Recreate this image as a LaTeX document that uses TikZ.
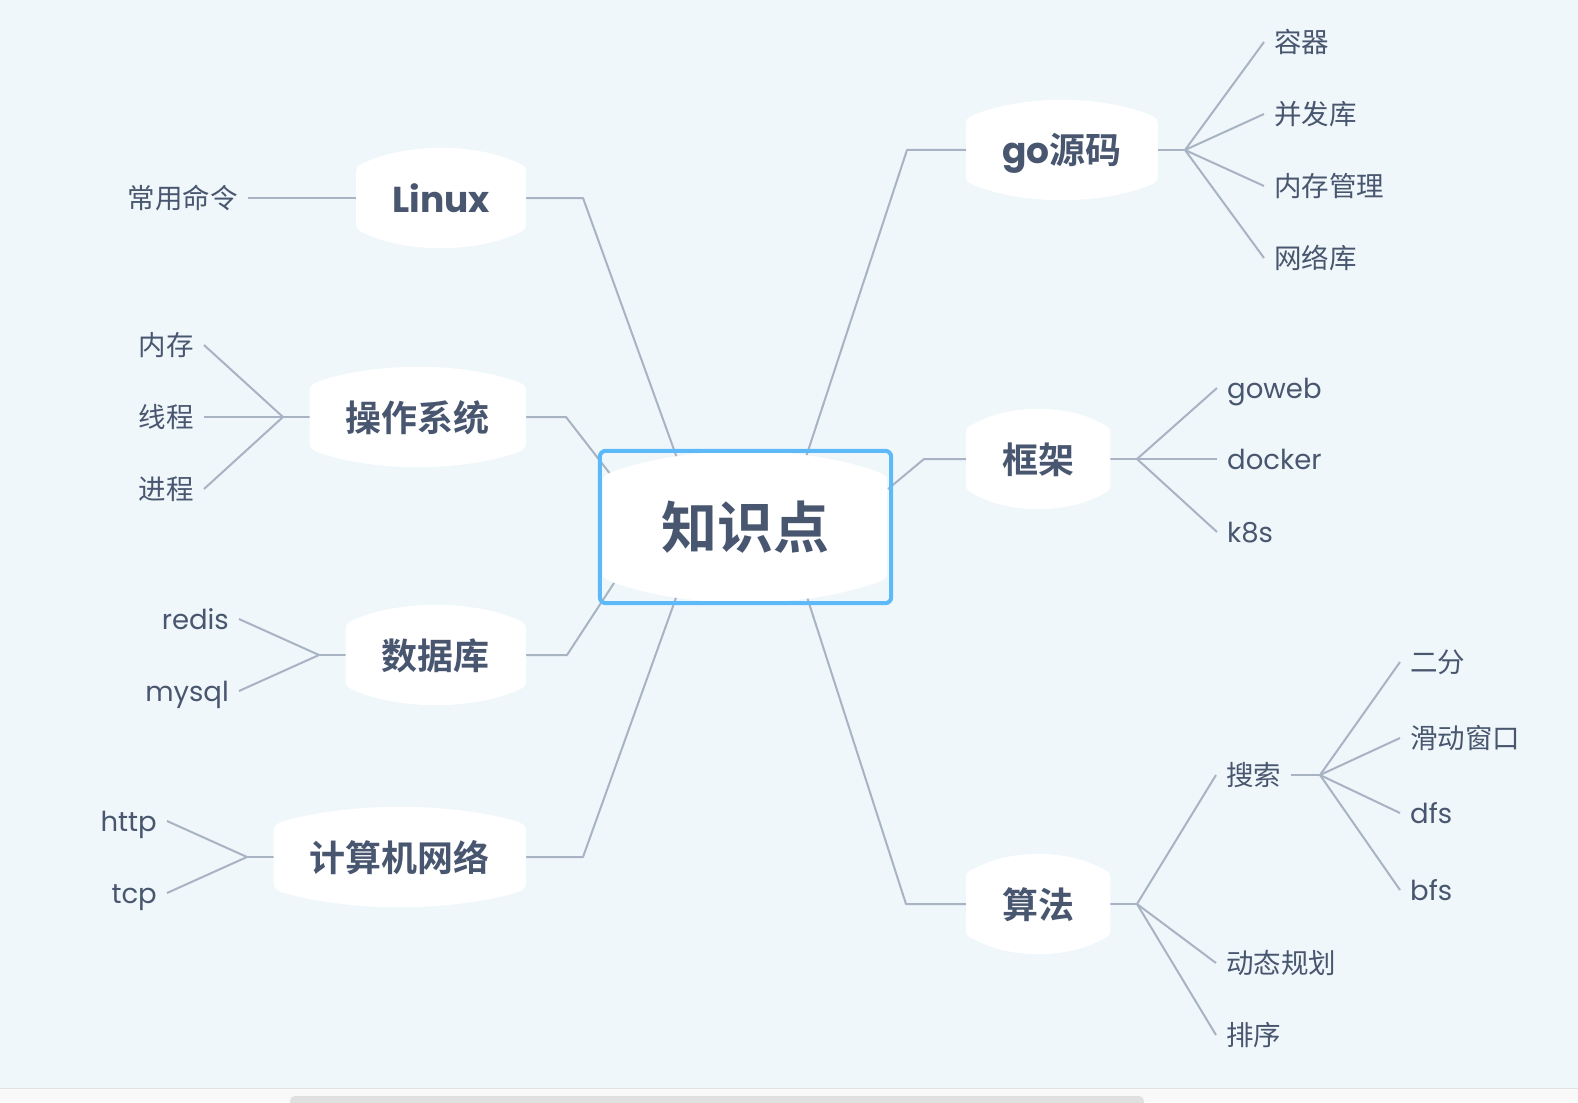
\documentclass[tikz,border=0pt]{standalone}
\usepackage{fontspec}
\setmainfont{Poppins}
\newfontfamily\cjk{Noto Sans CJK SC}[BoldFont={Noto Sans CJK SC Bold}]
\usetikzlibrary{calc}
\definecolor{mapBg}{RGB}{240,247,250}
\definecolor{mapLine}{RGB}{168,179,195}
\definecolor{mapText}{RGB}{72,86,111}
\definecolor{mapBlue}{RGB}{94,185,248}
\definecolor{barTrack}{RGB}{249,249,249}
\definecolor{barEdge}{RGB}{226,226,226}
\definecolor{barThumb}{RGB}{224,224,224}
\pgfdeclarelayer{bg}
\pgfsetlayers{bg,main}
\tikzset{
  link/.style={
    draw=mapLine,
    line width=2pt,
    line join=round
  },
  branch/.style={
    inner xsep=36pt,
    inner ysep=0pt,
    minimum height=98pt,
    text=mapText,
    text height=30pt,
    text depth=2pt,
    font=\fontsize{36}{40}\selectfont\bfseries
  },
  leaf/.style={
    inner xsep=10pt,
    inner ysep=0pt,
    text=mapText,
    text height=22.5pt,
    text depth=1.7pt,
    font=\fontsize{27.5}{30}\selectfont
  },
  rootnode/.style={
    inner xsep=58pt,
    inner ysep=0pt,
    minimum height=149pt,
    text=mapText,
    text height=46pt,
    text depth=3.4pt,
    font=\fontsize{56}{60}\selectfont\bfseries\cjk
  }
}
% white barrel under a node: #1 node, #2 bulge
\newcommand\barrelfill[2]{%
  \fill[white] let \p1=(#1.north west), \p2=(#1.south east), \n1={\x2-\x1} in
    (\x1,\y1-#2-9pt) -- (\x1,\y2+#2+9pt)
    .. controls (\x1,\y2+#2) .. (\x1+8pt,\y2+#2-4pt)
    .. controls (\x1+0.3*\n1,\y2-#2/3) and (\x2-0.3*\n1,\y2-#2/3) .. (\x2-8pt,\y2+#2-4pt)
    .. controls (\x2,\y2+#2) .. (\x2,\y2+#2+9pt)
    -- (\x2,\y1-#2-9pt)
    .. controls (\x2,\y1-#2) .. (\x2-8pt,\y1-#2+4pt)
    .. controls (\x2-0.3*\n1,\y1+#2/3) and (\x1+0.3*\n1,\y1+#2/3) .. (\x1+8pt,\y1-#2+4pt)
    .. controls (\x1,\y1-#2) .. (\x1,\y1-#2-9pt) -- cycle;}

\begin{document}
\begin{tikzpicture}[x=1pt, y=-1pt]
  \useasboundingbox (0,0) rectangle (1578,1102);

  % root
  \node[rootnode] (root) at (745,527) {知识点};
  \coordinate (inLinux) at ([shift={(-68,-69)}]root.center);
  \coordinate (inGo) at ([shift={(61,-70)}]root.center);
  \coordinate (inOs) at ([shift={(-134,-52)}]root.center);
  \coordinate (inFrame) at ([shift={(143,-38)}]root.center);
  \coordinate (inDb) at ([shift={(-129,53)}]root.center);
  \coordinate (inNet) at ([shift={(-68,68)}]root.center);
  \coordinate (inAlgo) at ([shift={(62,70)}]root.center);

  % left branches
  \node[branch, anchor=east] (linux) at (526,198) {Linux};
  \node[branch, anchor=east] (os) at (526,417) {\cjk 操作系统};
  \node[branch, anchor=east] (db) at (526,655) {\cjk 数据库};
  \node[branch, anchor=east] (net) at (526,857) {\cjk 计算机网络};

  % right branches
  \node[branch, anchor=west] (gosrc) at (966,150) {go{\cjk 源码}};
  \node[branch, anchor=west] (frame) at (966,459) {\cjk 框架};
  \node[branch, anchor=west] (algo) at (966,904) {\cjk 算法};

  % leaves on the left
  \node[leaf, anchor=east] (cmd) at (248,198) {\cjk 常用命令};
  \coordinate (osFork) at (283,417);
  \node[leaf, anchor=east] (mem) at (204,345) {\cjk 内存};
  \node[leaf, anchor=east] (thread) at (204,417) {\cjk 线程};
  \node[leaf, anchor=east] (proc) at (204,489) {\cjk 进程};
  \coordinate (dbFork) at (319,655);
  \node[leaf, anchor=east] (redis) at (239,619) {redis};
  \node[leaf, anchor=east] (mysql) at (239,691) {mysql};
  \coordinate (netFork) at (247,857);
  \node[leaf, anchor=east] (http) at (167,821) {http};
  \node[leaf, anchor=east] (tcp) at (167,893) {tcp};

  % leaves on the right
  \coordinate (goFork) at (1185,150);
  \node[leaf, anchor=west] (cont) at (1264,42) {\cjk 容器};
  \node[leaf, anchor=west] (conc) at (1264,114) {\cjk 并发库};
  \node[leaf, anchor=west] (memmgr) at (1264,186) {\cjk 内存管理};
  \node[leaf, anchor=west] (netlib) at (1264,258) {\cjk 网络库};
  \coordinate (frameFork) at (1137,459);
  \node[leaf, anchor=west] (goweb) at (1217,388) {goweb};
  \node[leaf, anchor=west] (docker) at (1217,459) {docker};
  \node[leaf, anchor=west] (kube) at (1217,532) {k8s};
  \coordinate (algoFork) at (1137,904);
  \node[leaf, anchor=west] (search) at (1216,775) {\cjk 搜索};
  \node[leaf, anchor=west] (dp) at (1216,963) {\cjk 动态规划};
  \node[leaf, anchor=west] (sort) at (1216,1035) {\cjk 排序};
  \coordinate (searchFork) at (1320,775);
  \node[leaf, anchor=west] (bisect) at (1400,662) {\cjk 二分};
  \node[leaf, anchor=west] (window) at (1400,738) {\cjk 滑动窗口};
  \node[leaf, anchor=west] (dfs) at (1400,813) {dfs};
  \node[leaf, anchor=west] (bfs) at (1400,890) {bfs};

  % root frame
  \draw[mapBlue, line width=4pt, rounded corners=6pt] ([shift={(-3,-1.5)}]root.north west) rectangle ([shift={(4,1.5)}]root.south east);

  \begin{pgfonlayer}{bg}
    % canvas and scroll bar
    \fill[mapBg] (0,0) rectangle (1578,1088);
    \fill[barTrack] (0,1088) rectangle (1578,1102);
    \draw[barEdge, line width=1pt] (0,1088) -- (1578,1088);
    \fill[barThumb, rounded corners=5pt] (290,1110) -- (290,1096) -- (1144,1096) -- (1144,1110) -- cycle;

    % main branches
    \draw[link] (linux.east) -- ++(57,0) -- (inLinux);
    \draw[link] (os.east) -- ++(40,0) -- (inOs);
    \draw[link] (db.east) -- ++(41,0) -- (inDb);
    \draw[link] (net.east) -- ++(57,0) -- (inNet);
    \draw[link] (gosrc.west) -- ++(-59,0) -- (inGo);
    \draw[link] (frame.west) -- ++(-42,0) -- (inFrame);
    \draw[link] (algo.west) -- ++(-60,0) -- (inAlgo);

    % sub branches
    \draw[link] (cmd.east) -- (linux.west);
    \draw[link] (os.west) -- (osFork);
    \foreach \nd in {mem,thread,proc} \draw[link] (osFork) -- (\nd.east);
    \draw[link] (db.west) -- (dbFork);
    \foreach \nd in {redis,mysql} \draw[link] (dbFork) -- (\nd.east);
    \draw[link] (net.west) -- (netFork);
    \foreach \nd in {http,tcp} \draw[link] (netFork) -- (\nd.east);
    \draw[link] (gosrc.east) -- (goFork);
    \foreach \nd in {cont,conc,memmgr,netlib} \draw[link] (goFork) -- (\nd.west);
    \draw[link] (frame.east) -- (frameFork);
    \foreach \nd in {goweb,docker,kube} \draw[link] (frameFork) -- (\nd.west);
    \draw[link] (algo.east) -- (algoFork);
    \foreach \nd in {search,dp,sort} \draw[link] (algoFork) -- (\nd.west);
    \draw[link] (search.east) -- (searchFork);
    \foreach \nd in {bisect,window,dfs,bfs} \draw[link] (searchFork) -- (\nd.west);

    % node bodies
    \barrelfill{root}{24pt}
    \foreach \nd in {linux,os,db,net,gosrc,frame,algo} {\barrelfill{\nd}{18pt}}
  \end{pgfonlayer}
\end{tikzpicture}
\end{document}
